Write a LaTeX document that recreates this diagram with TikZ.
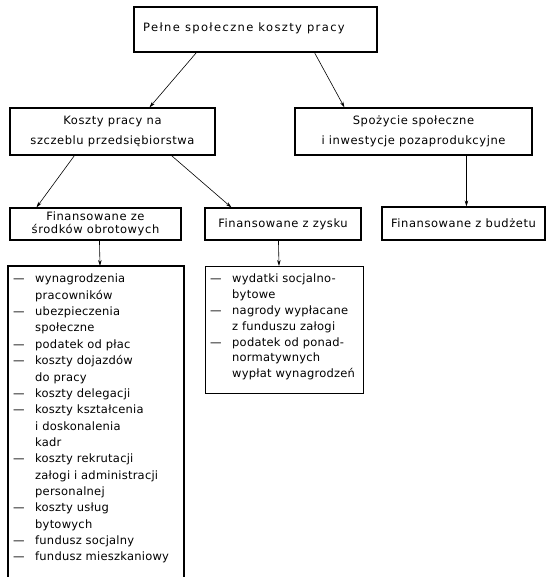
\documentclass[tikz,border=0pt]{standalone}
\usepackage{fontspec}
\setmainfont{DejaVu Sans}[LetterSpace=5]
\newfontfamily\widefont{DejaVu Sans}[LetterSpace=12]
\newfontfamily\listfont{DejaVu Sans}[LetterSpace=2]
\usetikzlibrary{arrows.meta}
\newcommand\litem[1]{\makebox[22bp][l]{—}#1}
\newcommand\lcont[1]{\hspace*{22bp}#1}
\tikzset{
  box/.style={draw, line width=1.1pt, inner sep=0pt, align=center,
    font=\fontsize{11.5bp}{20bp}\selectfont},
  tightbox/.style={box, font=\fontsize{11.5bp}{13.5bp}\selectfont},
  conn/.style={line width=0.6pt, -{Stealth[length=6bp,width=3.5bp]}},
  frame/.style={line width=1.1pt},
}
\begin{document}
\begin{tikzpicture}[x=1bp,y=-1bp]
\useasboundingbox (0,0) rectangle (549,577);
\fill[white] (0,0) rectangle (549,577);

\node[box, minimum width=243bp, minimum height=45bp] (top) at (255.5,29.5) {};
\node[inner sep=0pt, font=\widefont\fontsize{11.5bp}{14bp}\selectfont] (toptext) at (244,28) {Pełne społeczne koszty pracy};
\node[box, minimum width=205bp, minimum height=47bp] (b2) at (112.5,131.5) {Koszty pracy na\\szczeblu przedsiębiorstwa};
\node[box, minimum width=237bp, minimum height=47bp] (b3) at (413.5,131.5) {Spożycie społeczne\\i inwestycje pozaprodukcyjne};
\node[tightbox, minimum width=171bp, minimum height=32bp] (b4) at (95.5,224) {Finansowane ze\\środków obrotowych};
\node[box, minimum width=156bp, minimum height=32bp] (b5) at (283,224) {Finansowane z zysku};
\node[box, minimum width=163bp, minimum height=33bp] (b6) at (463.5,223.5) {Finansowane z budżetu};

% list 1 (open towards the bottom edge)
\coordinate (l1nw) at (8,266);
\coordinate (l1ne) at (184,266);
\coordinate (l1sw) at (8,590);
\coordinate (l1se) at (184,590);
\coordinate (l1in) at (100,266);
\draw[frame] (l1sw) -- (l1nw) -- (l1ne) -- (l1se);
\node[anchor=north west, inner sep=0pt, align=left,
      font=\listfont\fontsize{11.5bp}{16.35bp}\selectfont] (l1) at (13,274) {%
\litem{wynagrodzenia}\\
\lcont{pracowników}\\
\litem{ubezpieczenia}\\
\lcont{społeczne}\\
\litem{podatek od płac}\\
\litem{koszty dojazdów}\\
\lcont{do pracy}\\
\litem{koszty delegacji}\\
\litem{koszty kształcenia}\\
\lcont{i doskonalenia}\\
\lcont{kadr}\\
\litem{koszty rekrutacji}\\
\lcont{załogi i administracji}\\
\lcont{personalnej}\\
\litem{koszty usług}\\
\lcont{bytowych}\\
\litem{fundusz socjalny}\\
\litem{fundusz mieszkaniowy}};

% list 2
\node[draw, line width=1.1pt, anchor=north west, minimum width=158bp, minimum height=127bp,
      inner sep=0pt] (l2) at (205,266) {};
\node[anchor=north west, inner sep=0pt, align=left,
      font=\listfont\fontsize{11.5bp}{15.8bp}\selectfont] (l2text) at (210,274) {%
\litem{wydatki socjalno-}\\
\lcont{bytowe}\\
\litem{nagrody wypłacane}\\
\lcont{z funduszu załogi}\\
\litem{podatek od ponad-}\\
\lcont{normatywnych}\\
\lcont{wypłat wynagrodzeń}};

% connectors
\draw[conn] ([xshift=63bp]top.south west) -- ([xshift=140bp]b2.north west);
\draw[conn] ([xshift=181bp]top.south west) -- ([xshift=50bp]b3.north west);
\draw[conn] ([xshift=65bp]b2.south west) -- ([xshift=27bp]b4.north west);
\draw[conn] ([xshift=162bp]b2.south west) -- ([xshift=27bp]b5.north west);
\draw[conn] ([xshift=172bp]b3.south west) -- ([xshift=85bp]b6.north west);
\draw[conn] ([xshift=90bp]b4.south west) -- (l1in);
\draw[conn] ([xshift=74bp]b5.south west) -- ([xshift=74bp]l2.north west);
\end{tikzpicture}
\end{document}
